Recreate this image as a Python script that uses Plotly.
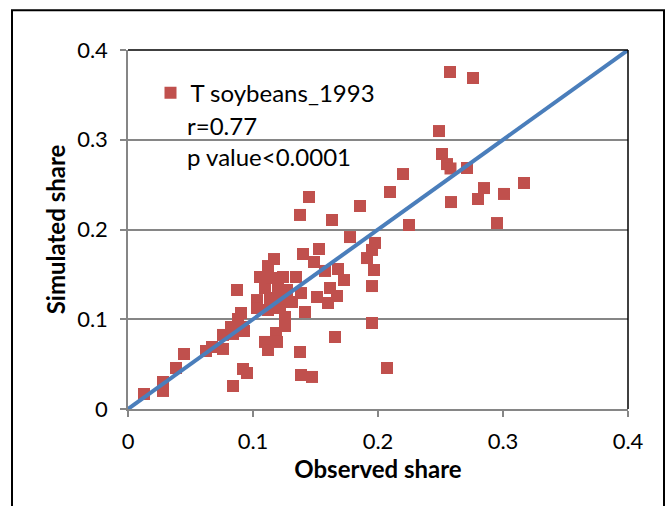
import plotly.graph_objects as go

observed = [0.0128, 0.028, 0.028, 0.0384, 0.0448, 0.0624, 0.0672, 0.076, 0.076, 0.084,
            0.092, 0.0952, 0.0824, 0.084, 0.092, 0.0928, 0.0872, 0.0904, 0.088, 0.1032,
            0.1032, 0.1056, 0.1096, 0.112, 0.1168, 0.1152, 0.112, 0.1096, 0.112, 0.1184,
            0.1192, 0.12, 0.1216, 0.124, 0.1256, 0.1272, 0.1344, 0.1312, 0.1136, 0.1216,
            0.1384, 0.1376, 0.1448, 0.14, 0.1528, 0.1488, 0.1576, 0.168, 0.1728, 0.1616,
            0.1512, 0.1672, 0.16, 0.1416, 0.1256, 0.1656, 0.1376, 0.1384, 0.1472, 0.1632,
            0.1776, 0.1856, 0.1912, 0.1952, 0.1976, 0.1968, 0.1952, 0.1952, 0.2072, 0.2096,
            0.22, 0.2248, 0.2488, 0.2512, 0.2552, 0.2580, 0.2712, 0.2576, 0.276, 0.2584,
            0.2848, 0.28, 0.3008, 0.3168, 0.2952]
simulated = [0.0167, 0.0301, 0.0201, 0.0457, 0.0613, 0.0646, 0.0691, 0.0669, 0.0825, 0.0256,
             0.0446, 0.0401, 0.0914, 0.0836, 0.0914, 0.0869, 0.1326, 0.107, 0.1003, 0.1214,
             0.1125, 0.1471, 0.1348, 0.1593, 0.1671, 0.146, 0.1103, 0.0747, 0.0657, 0.0847,
             0.0747, 0.1348, 0.1125, 0.1471, 0.1025, 0.1326, 0.1471, 0.1192, 0.1237, 0.1226,
             0.1292, 0.2162, 0.2362, 0.1727, 0.1783, 0.1638, 0.1538, 0.156, 0.1437, 0.1348,
             0.1248, 0.1259, 0.1181, 0.1081, 0.0925, 0.0802, 0.0635, 0.0379, 0.0357, 0.2106,
             0.1916, 0.2262, 0.1682, 0.1772, 0.185, 0.1549, 0.137, 0.0958, 0.0457, 0.2418,
             0.2618, 0.205, 0.3097, 0.2841, 0.2729, 0.2680, 0.2685, 0.3755, 0.3688, 0.2306,
             0.2462, 0.234, 0.2396, 0.2518, 0.2072]

line_x = [0, 0.4]
line_y = [0, 0.4]
tick_vals = [0, 0.1, 0.2, 0.3, 0.4]
tick_text = ["0", "0.1", "0.2", "0.3", "0.4"]
series_name = "T soybeans_1993"
stat_lines = ["r=0.77", "p value&lt;0.0001"]

FONT = "Lato"
fig = go.Figure()
fig.add_trace(go.Scatter(x=observed, y=simulated, mode="markers", name=series_name,
                         marker=dict(symbol="square", size=12, color="#C0504D",
                                     line=dict(width=0))))
fig.add_trace(go.Scatter(x=line_x, y=line_y, mode="lines", showlegend=False,
                         line=dict(color="#4A7EBB", width=4)))

axis_common = dict(range=[0, 0.4], tickvals=tick_vals, ticktext=tick_text,
                   showline=True, linecolor="#868686", linewidth=1.5,
                   ticks="outside", ticklen=6, tickcolor="#868686", tickwidth=1.5,
                   tickfont=dict(family=FONT, size=22, color="#000"), zeroline=False)

fig.update_layout(
    width=670, height=506,
    margin=dict(l=128, r=42, t=50, b=97),
    paper_bgcolor="white", plot_bgcolor="white",
    xaxis=dict(**axis_common, showgrid=False, ticklabelstandoff=6,
               title=dict(text="<b>Observed share</b>", font=dict(family=FONT, size=24, color="#000"),
                          standoff=0)),
    yaxis=dict(**axis_common, showgrid=True, gridcolor="#868686", gridwidth=1.5,
               ticklabelstandoff=8,
               title=dict(text="<b>Simulated share</b>", font=dict(family=FONT, size=24, color="#000"),
                          standoff=5)),
    showlegend=True,
    legend=dict(x=0.045, y=0.880, xanchor="left", yanchor="middle", bgcolor="rgba(0,0,0,0)",
                font=dict(family=FONT, size=24, color="#000"), itemwidth=30),
    shapes=[
        dict(type="rect", xref="paper", yref="paper", x0=0.0, x1=0.534, y0=0.62, y1=0.98,
             fillcolor="white", line=dict(width=0), layer="below"),
        dict(type="line", xref="paper", yref="paper", x0=0, x1=1, y0=1, y1=1,
             line=dict(color="#000", width=1.5)),
        dict(type="line", xref="paper", yref="paper", x0=1, x1=1, y0=0, y1=1,
             line=dict(color="#000", width=1.5)),
        dict(type="rect", xref="paper", yref="paper", x0=-0.232, x1=1.072, y0=-0.4, y1=1.111,
             line=dict(color="#000", width=2), fillcolor="rgba(0,0,0,0)"),
    ],
    annotations=[
        dict(xref="paper", yref="paper", x=0.114, y=0.791, xanchor="left", yanchor="middle",
             text=stat_lines[0], showarrow=False, font=dict(family=FONT, size=24, color="#000")),
        dict(xref="paper", yref="paper", x=0.114, y=0.702, xanchor="left", yanchor="middle",
             text=stat_lines[1], showarrow=False, font=dict(family=FONT, size=24, color="#000")),
    ],
)

fig.write_html("out.html")
